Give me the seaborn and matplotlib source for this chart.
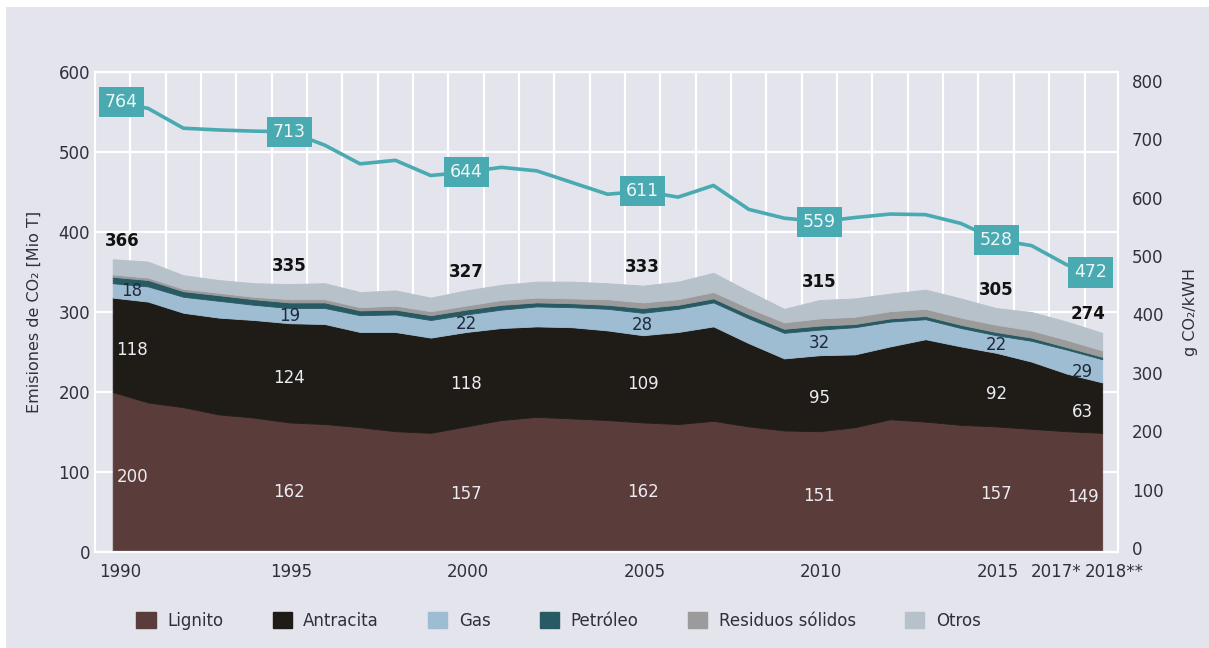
import matplotlib
matplotlib.use("Agg")
import matplotlib.pyplot as plt
from matplotlib.patches import Rectangle, Patch
import seaborn as sns

# datos (Mio t CO2 por combustible y g CO2/kWh)
years = list(range(1990, 2019))
lignito = [200, 187, 181, 172, 168, 162, 160, 156, 151, 149, 157, 165, 169, 167, 165,
           162, 160, 164, 157, 152, 151, 156, 166, 163, 159, 157, 154, 151, 149]
antracita = [118, 126, 118, 121, 122, 124, 125, 119, 124, 119, 118, 115, 113, 114, 112,
             109, 115, 118, 104, 90, 95, 91, 91, 103, 98, 92, 84, 72, 63]
gas = [18, 19, 20, 21, 19, 19, 20, 21, 22, 22, 22, 23, 25, 25, 27,
       28, 29, 30, 31, 32, 32, 34, 31, 25, 23, 22, 26, 30, 29]
petroleo = [8, 8, 7, 7, 7, 7, 7, 6, 6, 6, 6, 6, 5, 5, 5,
            6, 5, 5, 5, 5, 5, 4, 4, 4, 4, 4, 4, 3, 3]
residuos = [3, 3, 3, 3, 3, 4, 4, 4, 5, 5, 5, 6, 6, 6, 7,
            7, 7, 8, 8, 8, 9, 9, 9, 9, 9, 9, 9, 9, 8]
otros = [19, 20, 17, 16, 17, 19, 20, 19, 19, 17, 19, 19, 20, 21, 20,
         21, 22, 24, 21, 17, 23, 23, 22, 24, 24, 21, 23, 23, 22]
co2_kwh = [764, 753, 719, 716, 714, 713, 690, 658, 664, 638, 644, 652, 646, 626, 606,
           611, 601, 621, 580, 565, 559, 566, 572, 571, 556, 528, 518, 485, 472]

label_years = [1990, 1995, 2000, 2005, 2010, 2015, 2018]
series_names = ["Lignito", "Antracita", "Gas", "Petróleo", "Residuos sólidos", "Otros"]
xtick_pos = [1990, 1995, 2000, 2005, 2010, 2015, 2017, 2018]
xtick_labels = ["1990", "1995", "2000", "2005", "2010", "2015", "2017*", "2018**"]

colors = ["#5a3d3a", "#1f1b17", "#9fbdd2", "#285a63", "#9b9b9b", "#b7c1ca"]
teal = "#49aab2"
bg = "#e3e4ec"
txt = "#30303c"

sns.set_theme(style="darkgrid", rc={
    "axes.facecolor": bg, "figure.facecolor": bg, "grid.color": "white",
    "grid.linewidth": 1.6, "axes.edgecolor": "white", "axes.linewidth": 1.6,
})
plt.rcParams["font.family"] = ["DejaVu Sans"]

fig = plt.figure(figsize=(12.09, 6.48), dpi=100)
ax = fig.add_axes([0.0786, 0.148, 0.8462, 0.741])
ax2 = ax.twinx()

polys = ax.stackplot(years, lignito, antracita, gas, petroleo, residuos, otros,
                     colors=colors, labels=series_names, zorder=2)
for p, c in zip(polys, colors):
    p.set_edgecolor(c)
    p.set_linewidth(0.6)

ax.set_xlim(1989.5, 2018.45)
ax.set_ylim(0, 600)
ax.set_yticks(range(0, 601, 100))
ax.set_xticks([y + 0.5 for y in years[:-1]], minor=True)
ax.grid(False)
ax.grid(True, which="minor", axis="x", color="white", linewidth=1.6, zorder=0)
ax.grid(True, which="major", axis="y", color="white", linewidth=1.6, zorder=0)
ax.set_xticks(xtick_pos)
ax.set_xticklabels([])
ax.tick_params(axis="both", which="both", length=0, labelsize=12, labelcolor=txt)
for yr, lab in zip(xtick_pos, xtick_labels):
    shift = {1990: 0.2, 2017: -0.3, 2018: 0.35}.get(yr, 0.05)
    ax.text(yr + shift, -14, lab, ha="center", va="top", fontsize=12, color=txt)
ax.set_ylabel("Emisiones de CO₂ [Mio T]", fontsize=11.5, color=txt, labelpad=12)

# etiquetas de valores
shift_x = {1990: 0.55, 2018: -0.55}
for yr in label_years:
    i = years.index(yr)
    x = yr + shift_x.get(yr, 0)
    l, a, g = lignito[i], antracita[i], gas[i]
    total = l + a + g + petroleo[i] + residuos[i] + otros[i]
    ax.text(x, l / 2 - 6, str(l), ha="center", va="center", fontsize=12, color="#ecebf2", zorder=5)
    ax.text(x, l + a / 2 - 6, str(a), ha="center", va="center", fontsize=12, color="#ecebf2", zorder=5)
    ax.text(x, l + a + g / 2 - 1, str(g), ha="center", va="center", fontsize=12, color="#1d2b3c", zorder=5)
    tx = yr + {1990: 0.28, 2018: -0.4}.get(yr, 0)
    ax.text(tx, total + 23, str(total), ha="center", va="center", fontsize=12,
            fontweight="bold", color="#111111", zorder=5)

# intensidad de CO2 (eje derecho)
sns.lineplot(x=years, y=co2_kwh, ax=ax2, color=teal, linewidth=2.6, zorder=3)
ax2.set_ylim(-6.9, 815.4)
ax2.set_yticks(range(0, 801, 100))
ax2.grid(False)
ax2.tick_params(axis="y", length=0, labelsize=12, labelcolor=txt, pad=10)
ax2.set_ylabel("g CO₂/kWH", fontsize=11.5, color=txt, labelpad=14)
for yr in label_years:
    i = years.index(yr)
    bx = yr + {1990: 0.24, 2018: -0.32}.get(yr, 0)
    ax2.text(bx, co2_kwh[i], str(co2_kwh[i]), ha="center", va="center", fontsize=12.5,
             color="#eef7f7", zorder=6,
             bbox=dict(boxstyle="square,pad=0.35", facecolor=teal, edgecolor="none"))
for s in ax2.spines.values():
    s.set_visible(False)

handles = [Patch(facecolor=c, edgecolor=c) for c in colors]
fig.legend(handles, series_names, loc="center", bbox_to_anchor=(0.462, 0.042), ncol=6,
           frameon=False, fontsize=12, handlelength=1.15, handleheight=1.15,
           handletextpad=0.7, columnspacing=2.95, labelcolor=txt)

# borde blanco superior e izquierdo
fig.patches.append(Rectangle((0, 1 - 7 / 648), 1, 7 / 648, transform=fig.transFigure,
                             facecolor="white", edgecolor="none"))
fig.patches.append(Rectangle((0, 0), 6 / 1209, 1, transform=fig.transFigure,
                             facecolor="white", edgecolor="none"))

fig.savefig("out.png", dpi=100, facecolor=bg)
